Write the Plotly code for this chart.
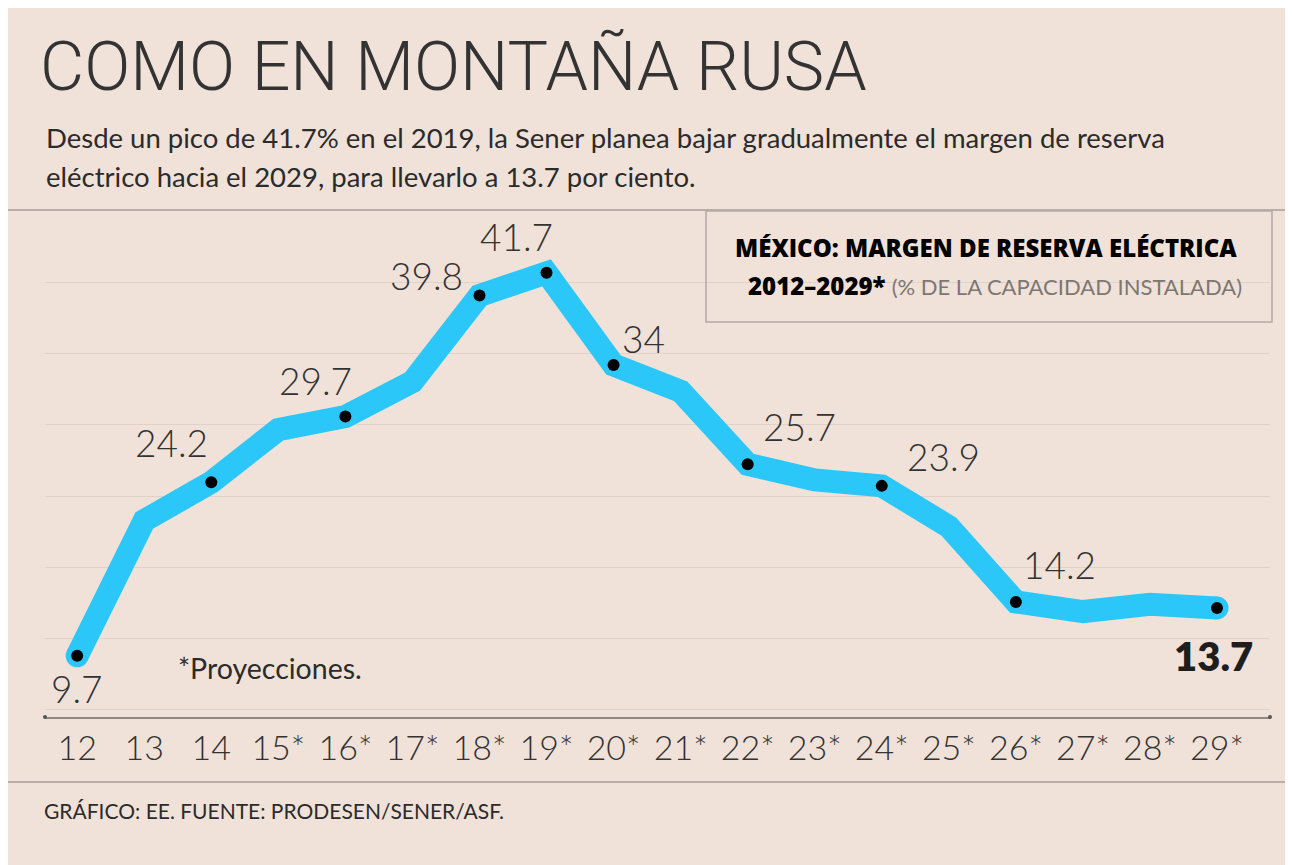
import plotly.graph_objects as go

# ---------------- data ----------------
years = list(range(2012, 2030))
tick_labels = ["12", "13", "14", "15*", "16*", "17*", "18*", "19*", "20*",
               "21*", "22*", "23*", "24*", "25*", "26*", "27*", "28*", "29*"]
reserve_margin = [9.7, 21.0, 24.2, 28.6, 29.7, 32.6, 39.8, 41.7, 34.0,
                  31.8, 25.7, 24.4, 23.9, 20.5, 14.2, 13.4, 14.0, 13.7]
marked_years = [2012, 2014, 2016, 2018, 2019, 2020, 2022, 2024, 2026, 2029]
marked_labels = ["9.7", "24.2", "29.7", "39.8", "41.7", "34", "25.7", "23.9", "14.2", "13.7"]

# label offsets in pixels (style)
label_shift = {
    2012: (0, -33), 2014: (-40, 40), 2016: (-30, 36), 2018: (-53, 20),
    2019: (-30, 36), 2020: (30, 26), 2022: (52, 38), 2024: (62, 29),
    2026: (44, 37), 2029: (-4, -48),
}
grid_values = [5.2, 11.15, 17.1, 23.05, 29.0, 34.95, 40.9]

# ---------------- layout geometry (reference pixel coords) ----------------
OFF = 8                      # page body margin
W, H = 1285 - OFF, 865 - OFF
L, R, T, B = 45, 1270, 212, 717


def PX(x):
    return (x - L) / (R - L)


def PY(y):
    return (B - y) / (B - T)


BG = "#f0e2d9"
BLUE = "#2bc7f8"
TXT = "#2b2b2b"
FONT = "Lato"

val = dict(zip(years, reserve_margin))
mx = marked_years
my = [val[y] for y in marked_years]

fig = go.Figure()
fig.add_trace(go.Scatter(
    x=years, y=reserve_margin, mode="lines",
    line=dict(color=BLUE, width=23), hoverinfo="skip", cliponaxis=False,
))
fig.add_trace(go.Scatter(
    x=[years[0], years[-1]], y=[reserve_margin[0], reserve_margin[-1]], mode="markers",
    marker=dict(color=BLUE, size=23, line=dict(width=0)), hoverinfo="skip", cliponaxis=False,
))
fig.add_trace(go.Scatter(
    x=mx, y=my, mode="markers",
    marker=dict(color="#000000", size=12, line=dict(width=0)), cliponaxis=False,
))

annotations = []
for yr, lab in zip(marked_years, marked_labels):
    dx, dy = label_shift[yr]
    bold = yr == 2029
    annotations.append(dict(
        x=yr, y=val[yr], xref="x", yref="y", text=lab, showarrow=False,
        xshift=dx, yshift=dy, xanchor="center", yanchor="middle",
        font=dict(family=FONT, size=40 if bold else 37, color="#1e1e1e" if bold else "#333333",
                  weight=800 if bold else 300),
    ))

annotations += [
    dict(x=PX(38), y=PY(67), xref="paper", yref="paper", xanchor="left", yanchor="middle",
         text="COMO EN MONTAÑA RUSA", showarrow=False,
         font=dict(family="Roboto", size=68, color="#333333", weight=300)),
    dict(x=PX(44), y=PY(137), xref="paper", yref="paper", xanchor="left", yanchor="middle",
         text="Desde un pico de 41.7% en el 2019, la Sener planea bajar gradualmente el margen de reserva",
         showarrow=False, font=dict(family=FONT, size=27.5, color=TXT, weight=400)),
    dict(x=PX(44), y=PY(177), xref="paper", yref="paper", xanchor="left", yanchor="middle",
         text="eléctrico hacia el 2029, para llevarlo a 13.7 por ciento.",
         showarrow=False, font=dict(family=FONT, size=27.5, color=TXT, weight=400)),
    dict(x=PX(176), y=PY(668), xref="paper", yref="paper", xanchor="left", yanchor="middle",
         text="*Proyecciones.", showarrow=False,
         font=dict(family=FONT, size=28.5, color=TXT, weight=400)),
    dict(x=PX(42), y=PY(810), xref="paper", yref="paper", xanchor="left", yanchor="middle",
         text="GRÁFICO: EE. FUENTE: PRODESEN/SENER/ASF.", showarrow=False,
         font=dict(family=FONT, size=21, color=TXT, weight=400)),
    dict(x=PX(986), y=PY(248), xref="paper", yref="paper", xanchor="center", yanchor="middle",
         text="MÉXICO: MARGEN DE RESERVA ELÉCTRICA", showarrow=False,
         font=dict(family="Open Sans", size=24, color="#000000", weight=800)),
    dict(x=PX(995), y=PY(285), xref="paper", yref="paper", xanchor="center", yanchor="middle",
         text="2012–2029* <span style='font-family:Lato;font-weight:400;font-size:22px;color:#7d7773'>"
              "(% DE LA CAPACIDAD INSTALADA)</span>",
         showarrow=False, font=dict(family="Open Sans", size=24, color="#000000", weight=800)),
]

shapes = [
    dict(type="line", xref="paper", yref="paper", x0=PX(OFF - 2), x1=PX(1290), y0=PY(210), y1=PY(210),
         line=dict(color="#b8afa8", width=2)),
    dict(type="line", xref="paper", yref="paper", x0=PX(OFF - 2), x1=PX(1290), y0=PY(782), y1=PY(782),
         line=dict(color="#b8afa8", width=2)),
    dict(type="rect", xref="paper", yref="paper", x0=PX(706), x1=PX(1272), y0=PY(211), y1=PY(322),
         line=dict(color="#b3aaa4", width=1.5), fillcolor="rgba(0,0,0,0)"),
    dict(type="circle", xref="paper", yref="paper", x0=PX(43), x1=PX(47), y0=PY(715), y1=PY(719),
         fillcolor="#555555", line=dict(width=0)),
    dict(type="circle", xref="paper", yref="paper", x0=PX(1268), x1=PX(1272), y0=PY(715), y1=PY(719),
         fillcolor="#555555", line=dict(width=0)),
]

fig.update_layout(
    width=W, height=H,
    margin=dict(l=L - OFF, r=W - (R - OFF), t=T - OFF, b=H - (B - OFF), pad=0),
    paper_bgcolor=BG, plot_bgcolor="rgba(0,0,0,0)",
    showlegend=False,
    annotations=annotations, shapes=shapes,
    xaxis=dict(
        range=[2011.52, 2029.79], tickvals=years, ticktext=tick_labels,
        showgrid=False, zeroline=False, showline=True, linecolor="#8f8883", linewidth=1.5,
        ticks="", ticklabelstandoff=0,
        tickfont=dict(family=FONT, size=34, color="#333333", weight=300),
        fixedrange=True,
    ),
    yaxis=dict(
        range=[4.59, 46.78], tickvals=grid_values, showticklabels=False,
        showgrid=True, gridcolor="#e1d2c9", gridwidth=1.2, zeroline=False, showline=False,
        fixedrange=True,
    ),
)

fig.write_html("out.html")
